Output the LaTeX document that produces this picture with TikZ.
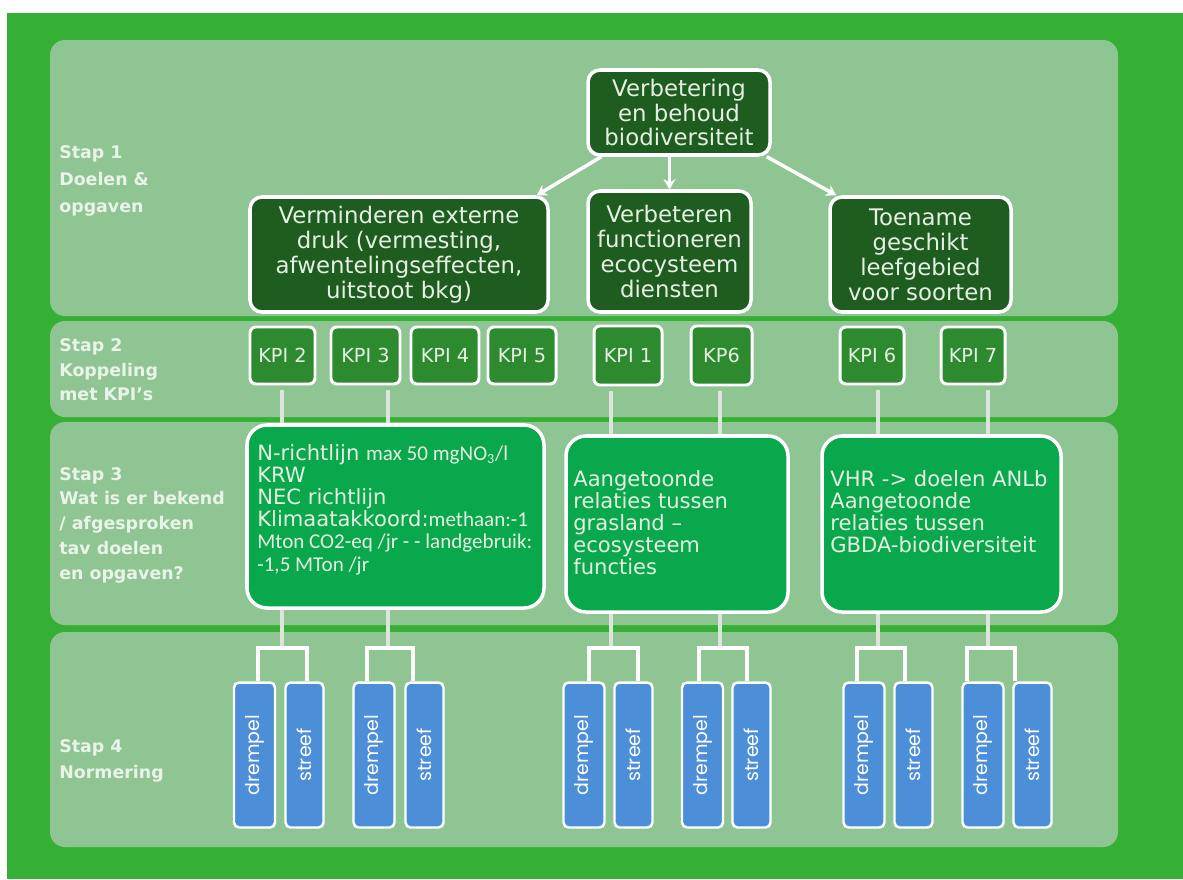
\documentclass[tikz,border=0pt]{standalone}
\usepackage{fontspec}
\setmainfont{DejaVu Sans}
\newfontfamily\carl{Carlito}
\newfontfamily\pop{Poppins}
\usetikzlibrary{arrows.meta}
\definecolor{outer}{HTML}{36B034}
\definecolor{panel}{HTML}{8FC493}
\definecolor{dgreen}{HTML}{1E5C20}
\definecolor{kgreen}{HTML}{2E8A2E}
\definecolor{bgreen}{HTML}{0AA84C}
\definecolor{bblue}{HTML}{4D8ED8}
\definecolor{ltext}{HTML}{E4F0E0}
\definecolor{stemc}{HTML}{DCE4DC}
\definecolor{lbl}{HTML}{EAF3E8}
\begin{document}
\begin{tikzpicture}[x=0.02cm,y=-0.02cm,
  spanbox/.style n args={4}{minimum width={(#3-#1)*0.02cm}, minimum height={(#4-#2)*0.02cm}, at={({(#1+#3)/2},{(#2+#4)/2})}},
  panelbox/.style={fill=panel, rounded corners=0.3cm},
  dbox/.style={draw=white, line width=2pt, fill=dgreen, rounded corners=0.24cm, inner sep=0pt, align=center, text=ltext, font=\fontsize{13}{14.2}\selectfont},
  kbox/.style={draw=white, line width=1.7pt, fill=kgreen, rounded corners=0.12cm, inner sep=0pt, text=ltext, font=\fontsize{11}{12}\selectfont},
  gbox/.style={draw=white, line width=2pt, fill=bgreen, rounded corners=0.4cm, inner sep=0pt},
  btext/.style={inner sep=0pt, align=left, text=ltext, font=\fontsize{12}{12.6}\selectfont},
  steplbl/.style={inner sep=0pt, align=left, text=lbl, font=\bfseries\fontsize{9.9}{#1}\selectfont},
  arr/.style={draw=white, line width=2pt, -{Stealth[length=0.2cm,width=0.24cm]}},
  stem/.style={draw=stemc, line width=2.8pt},
  brk/.style={draw=white, line width=2.2pt},
  barbox/.style={rotate=90, fill=bblue, draw=white, line width=1.4pt, rounded corners=0.1cm, inner sep=0pt, minimum width=2.9cm, minimum height=#1, text=white, font=\pop\fontsize{10.8}{12}\selectfont}
]
\useasboundingbox (0,0) rectangle (1183,879);
\fill[white] (0,0) rectangle (1183,879);
\fill[outer] (7,13) rectangle (1183,879);

% panels
\fill[panelbox] (50,40) rectangle (1118,316);
\fill[panelbox] (50,321) rectangle (1118,417);
\fill[panelbox] (50,422) rectangle (1118,625);
\fill[panelbox] (50,632) rectangle (1118,847);

% step labels
\node[steplbl=15.6pt, anchor=west] (l1) at (59,181) {Stap 1\\Doelen \&\\opgaven};
\node[steplbl=14pt, anchor=west] (l2) at (59,370) {Stap 2\\Koppeling\\met KPI’s};
\node[steplbl=14.1pt, anchor=west] (l3) at (59,525) {Stap 3\\Wat is er bekend\\/ afgesproken\\tav doelen\\en opgaven?};
\node[steplbl=14.8pt, anchor=west] (l4) at (59,761) {Stap 4\\Normering};

% step 1
\node[dbox, spanbox={588}{70}{770}{155}] (top) {Verbetering\\en behoud\\biodiversiteit};
\node[dbox, spanbox={250}{197}{548}{312}] (A) {\rule{0pt}{8pt}Verminderen externe\\druk (vermesting,\\afwentelingseffecten,\\uitstoot bkg)};
\node[dbox, spanbox={588}{191}{751}{312}] (B) {Verbeteren\\functioneren\\ecocysteem\\diensten};
\node[dbox, spanbox={830}{197}{1011}{312}] (C) {Toename\\geschikt\\leefgebied\\voor soorten};

\draw[arr] ([xshift=0.3cm]top.south west) -- ([xshift=-0.26cm]A.north east);
\draw[arr] (top.south -| B.north) -- (B.north);
\draw[arr] ([xshift=-0.1cm]top.south east) -- ([xshift=0.16cm]C.north west);

% step 2
\node[kbox, spanbox={250}{327}{315}{384}] (kpi2) {KPI 2};
\node[kbox, spanbox={331}{327}{400}{384}] (kpi3) {KPI 3};
\node[kbox, spanbox={411}{327}{479}{384}] (kpi4) {KPI 4};
\node[kbox, spanbox={488}{327}{556}{384}] (kpi5) {KPI 5};
\node[kbox, spanbox={594}{326}{662}{385}] (kpi1) {KPI 1};
\node[kbox, spanbox={691}{326}{752}{385}] (kp6) {KP6};
\node[kbox, spanbox={840}{327}{904}{384}] (kpi6) {KPI 6};
\node[kbox, spanbox={941}{327}{1005}{384}] (kpi7) {KPI 7};

% step 3
\node[gbox, spanbox={247}{425}{544}{608}] (D) {};
\node[gbox, spanbox={566}{436}{788}{612}] (E) {};
\node[gbox, spanbox={822}{436}{1061}{612}] (F) {};
\node[btext, anchor=north west] (Dt) at (257,444) {N-richtlijn {\carl max 50 mgNO\textsubscript{3}/l}\\KRW\\NEC richtlijn\\Klimaatakkoord:{\carl methaan:-1}\\{\carl Mton CO2-eq /jr - - landgebruik:}\\{\carl -1,5 MTon /jr}};
\node[btext, anchor=north west] (Et) at (573,470) {Aangetoonde\\relaties tussen\\grasland --\\ecosysteem\\functies};
\node[btext, anchor=north west] (Ft) at (830,470) {VHR -> doelen ANLb\\Aangetoonde\\relaties tussen\\GBDA-biodiversiteit};

% junction coordinates
\coordinate (j1) at (282,648);
\coordinate (j2) at (388,648);
\coordinate (j3) at (611,648);
\coordinate (j4) at (720,648);
\coordinate (j5) at (878,648);
\coordinate (j6) at (988,648);

% stems KPI -> step 3
\draw[stem, shorten <=0.1cm] (kpi2.south -| j1) -- (D.north -| j1);
\draw[stem, shorten <=0.1cm] (kpi3.south -| j2) -- (D.north -| j2);
\draw[stem, shorten <=0.1cm] (kpi1.south -| j3) -- (E.north -| j3);
\draw[stem, shorten <=0.1cm] (kp6.south -| j4) -- (E.north -| j4);
\draw[stem, shorten <=0.1cm] (kpi6.south -| j5) -- (F.north -| j5);
\draw[stem, shorten <=0.1cm] (kpi7.south -| j6) -- (F.north -| j6);

% stems step 3 -> brackets
\draw[stem] (D.south -| j1) -- (j1);
\draw[stem] (D.south -| j2) -- (j2);
\draw[stem] (E.south -| j3) -- (j3);
\draw[stem] (E.south -| j4) -- (j4);
\draw[stem] (F.south -| j5) -- (j5);
\draw[stem] (F.south -| j6) -- (j6);

% bars
\node[barbox=0.82cm] (d1) at (254.5,755) {drempel};
\node[barbox=0.76cm] (s1) at (304.5,755) {streef};
\node[barbox=0.82cm] (d2) at (374,755) {drempel};
\node[barbox=0.76cm] (s2) at (424.5,755) {streef};
\node[barbox=0.82cm] (d3) at (584,755) {drempel};
\node[barbox=0.76cm] (s3) at (633.5,755) {streef};
\node[barbox=0.82cm] (d4) at (702.5,755) {drempel};
\node[barbox=0.76cm] (s4) at (751.5,755) {streef};
\node[barbox=0.82cm] (d5) at (864,755) {drempel};
\node[barbox=0.76cm] (s5) at (913.5,755) {streef};
\node[barbox=0.82cm] (d6) at (983,755) {drempel};
\node[barbox=0.76cm] (s6) at (1032.5,755) {streef};

% brackets
\draw[brk] ([xshift=0.07cm]d1.east) |- (j1) -| ([xshift=0.05cm]s1.east);
\draw[brk] ([xshift=-0.14cm]d2.east) |- (j2) -| ([xshift=-0.23cm]s2.east);
\draw[brk] ([xshift=0.1cm]d3.east) |- (j3) -| ([xshift=0.09cm]s3.east);
\draw[brk] ([xshift=-0.07cm]d4.east) |- (j4) -| ([xshift=-0.09cm]s4.east);
\draw[brk] ([xshift=-0.14cm]d5.east) |- (j5) -| ([xshift=-0.17cm]s5.east);
\draw[brk] ([xshift=-0.32cm]d6.east) |- (j6) -| ([xshift=-0.35cm]s6.east);
\end{tikzpicture}
\end{document}
